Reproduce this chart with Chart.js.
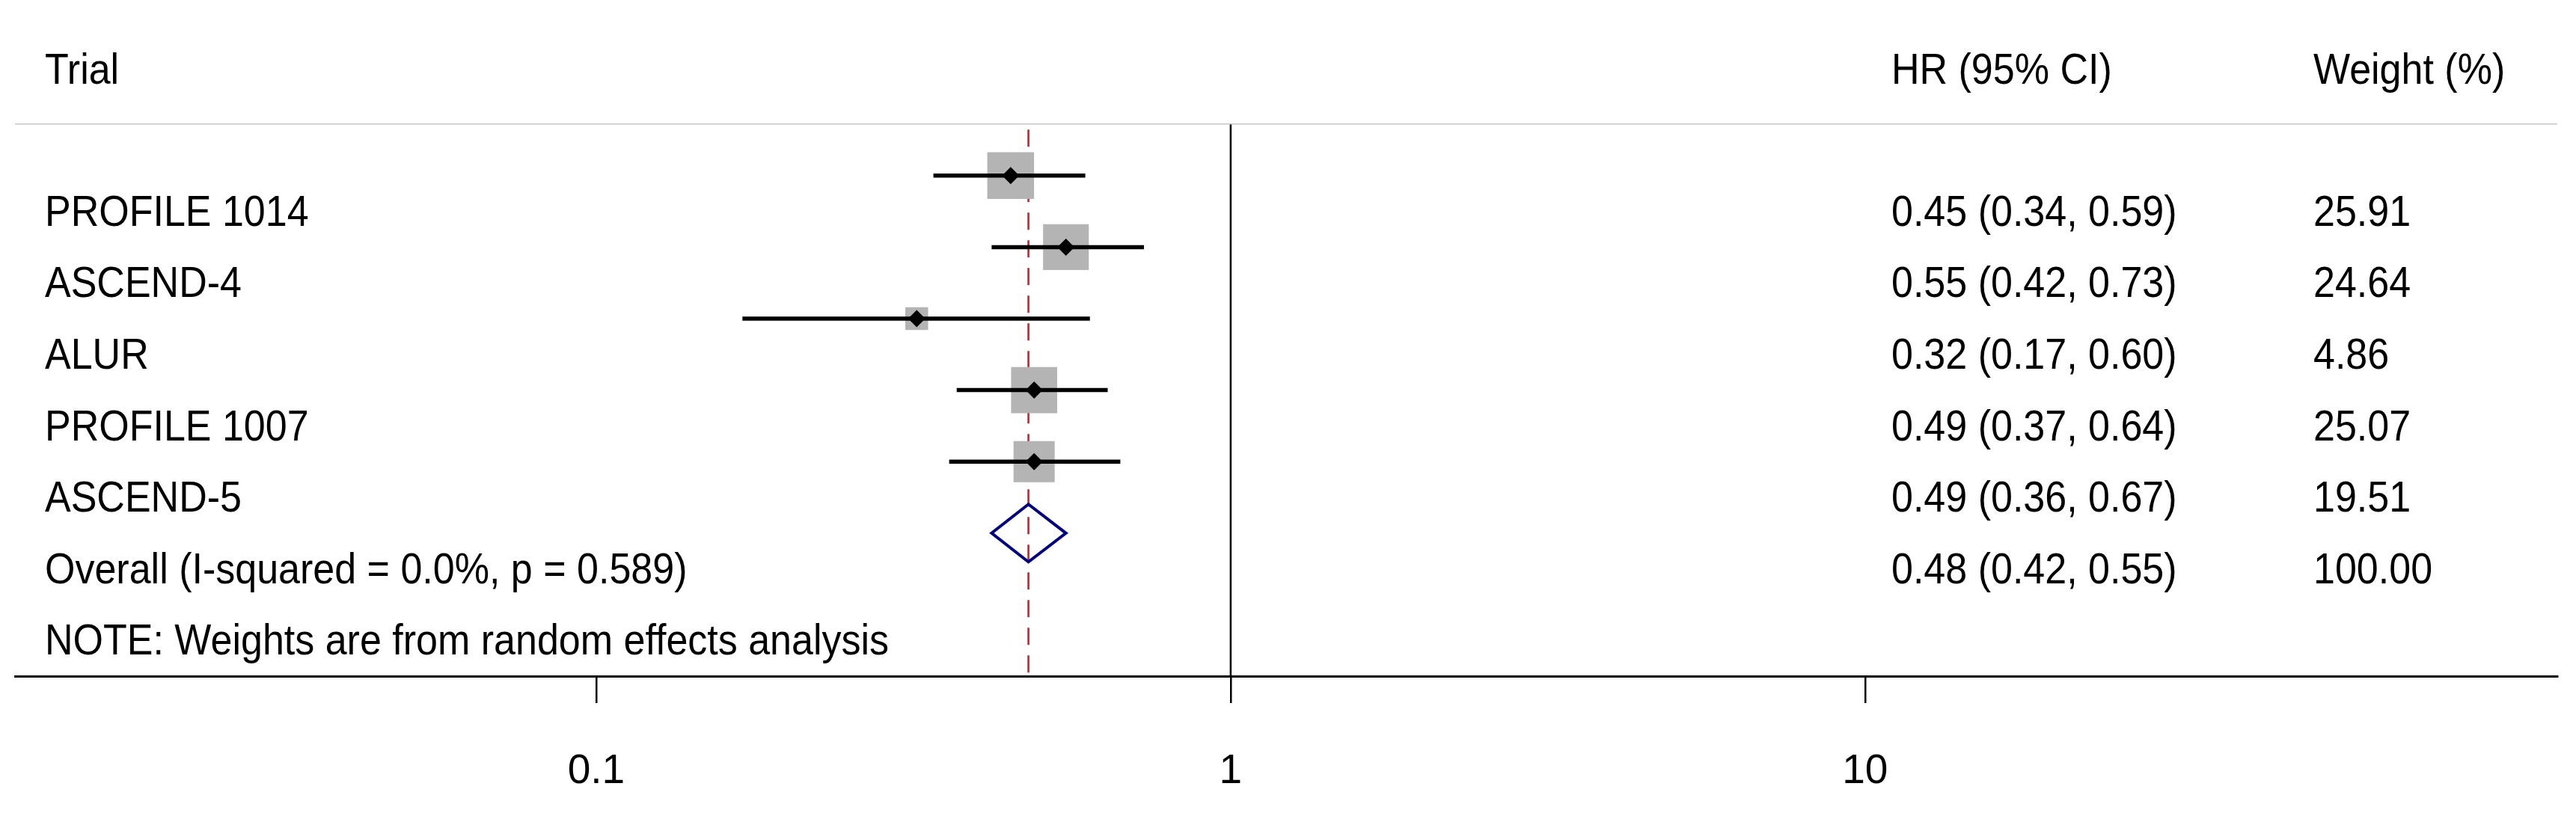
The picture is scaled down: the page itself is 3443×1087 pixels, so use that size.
<!DOCTYPE html>
<html>
<head>
<meta charset="utf-8">
<script src="https://cdn.jsdelivr.net/npm/chart.js@4.4.1/dist/chart.umd.min.js"></script>
<style>
  html, body { margin: 0; padding: 0; background: #ffffff; }
  #wrap { width: 3443px; height: 1087px; position: relative; }
</style>
</head>
<body>
<div id="wrap"><canvas id="c"></canvas></div>
<script>
// ---------------- data ----------------
const trials   = ['PROFILE 1014', 'ASCEND-4', 'ALUR', 'PROFILE 1007', 'ASCEND-5'];
const hr       = [0.45, 0.55, 0.32, 0.49, 0.49];
const ciLow    = [0.34, 0.42, 0.17, 0.37, 0.36];
const ciHigh   = [0.59, 0.73, 0.60, 0.64, 0.67];
const weights  = [25.91, 24.64, 4.86, 25.07, 19.51];
const overallLabel = 'Overall (I-squared = 0.0%, p = 0.589)';
const overallHR    = 0.48;
const overallLow   = 0.42;
const overallHigh  = 0.55;
const overallWeight = 100.00;
const noteText   = 'NOTE: Weights are from random effects analysis';
const headers    = ['Trial', 'HR (95% CI)', 'Weight (%)'];
const tickValues = [0.1, 1, 10];
const tickLabels = ['0.1', '1', '10'];
const nullValue  = 1;

// ---------------- style / layout ----------------
const FONT = '"Liberation Sans", Arial, sans-serif';
const FS = 52;
const TICK_FS = 55;
const VSTRETCH = 1.09;
const X_MIN = 0.01213, X_MAX = 123.3;
const Y_MIN = -0.73, Y_MAX = 7.0;
const LABEL_OFFSET = 0.70;
const COL_LABEL = 60, COL_HR = 2528, COL_W = 3092;

const rows = trials.map((_, i) => i);
const overallRow = trials.length;
const noteRow = trials.length + 1;

const datasets = [];

// reference line at overall estimate (red dashed), drawn at the back
datasets.push({
  data: [{x: overallHR, y: -0.645}, {x: overallHR, y: Y_MAX}],
  showLine: true, pointRadius: 0, borderColor: '#b9303c', borderWidth: 2.7,
  borderDash: [23, 14], order: 20
});
// null line at HR = 1
datasets.push({
  data: [{x: nullValue, y: Y_MIN}, {x: nullValue, y: Y_MAX}],
  showLine: true, pointRadius: 0, borderColor: '#000000', borderWidth: 2.5, order: 19
});
// header separator line (top of plot area)
datasets.push({
  data: [{x: X_MIN, y: Y_MIN}, {x: X_MAX, y: Y_MIN}],
  showLine: true, pointRadius: 0, borderColor: '#c6c6c6', borderWidth: 3, order: 18
});
// weight boxes
datasets.push({
  data: rows.map(i => ({x: hr[i], y: i})),
  showLine: false, pointStyle: 'rect',
  pointRadius: rows.map(i => (6 + 11.1 * Math.sqrt(weights[i])) / Math.SQRT2),
  pointBackgroundColor: '#b4b4b4', pointBorderWidth: 0, pointBorderColor: 'rgba(0,0,0,0)',
  order: 10
});
// confidence interval lines
rows.forEach(i => {
  datasets.push({
    data: [{x: ciLow[i], y: i}, {x: ciHigh[i], y: i}],
    showLine: true, pointRadius: 0, borderColor: '#000000', borderWidth: 5.5,
    borderCapStyle: 'butt', order: 5
  });
});
// point estimates
datasets.push({
  data: rows.map(i => ({x: hr[i], y: i})),
  showLine: false, pointStyle: 'rectRot', pointRadius: 11.5,
  pointBackgroundColor: '#000000', pointBorderWidth: 0, order: 1
});
// overall diamond
const dh = 0.403;
datasets.push({
  data: [
    {x: overallLow, y: overallRow}, {x: overallHR, y: overallRow - dh},
    {x: overallHigh, y: overallRow}, {x: overallHR, y: overallRow + dh},
    {x: overallLow, y: overallRow}, {x: overallHR, y: overallRow - dh}
  ],
  showLine: true, pointRadius: 0, borderColor: '#000080', borderWidth: 4,
  borderJoinStyle: 'miter', tension: 0, order: 2
});

const textPlugin = {
  id: 'forestText',
  afterDraw(chart) {
    const ctx = chart.ctx;
    const ys = chart.scales.y;
    const area = chart.chartArea;
    const put = (t, x, y) => {
      ctx.save();
      ctx.translate(x, y);
      ctx.scale(1, VSTRETCH);
      ctx.fillText(t, 0, 0);
      ctx.restore();
    };
    ctx.save();
    ctx.fillStyle = '#000000';
    ctx.font = FS + 'px ' + FONT;
    ctx.textAlign = 'left';
    ctx.textBaseline = 'alphabetic';
    const hy = area.top - 53;
    put(headers[0], COL_LABEL, hy);
    put(headers[1], COL_HR, hy);
    put(headers[2], COL_W, hy);
    const fmt = (a, b, c) => a.toFixed(2) + ' (' + b.toFixed(2) + ', ' + c.toFixed(2) + ')';
    rows.forEach(i => {
      const y = ys.getPixelForValue(i + LABEL_OFFSET);
      put(trials[i], COL_LABEL, y);
      put(fmt(hr[i], ciLow[i], ciHigh[i]), COL_HR, y);
      put(weights[i].toFixed(2), COL_W, y);
    });
    const oy = ys.getPixelForValue(overallRow + LABEL_OFFSET);
    put(overallLabel, COL_LABEL, oy);
    put(fmt(overallHR, overallLow, overallHigh), COL_HR, oy);
    put(overallWeight.toFixed(2), COL_W, oy);
    put(noteText, COL_LABEL, ys.getPixelForValue(noteRow + LABEL_OFFSET));
    ctx.restore();
  }
};

new Chart(document.getElementById('c'), {
  type: 'scatter',
  data: { datasets },
  plugins: [textPlugin],
  options: {
    responsive: true,
    maintainAspectRatio: false,
    animation: false,
    devicePixelRatio: 1,
    layout: { autoPadding: false, padding: { left: 20, right: 25, top: 165, bottom: 0 } },
    plugins: { legend: { display: false }, tooltip: { enabled: false } },
    elements: { line: { tension: 0 } },
    scales: {
      x: {
        type: 'logarithmic',
        position: 'bottom',
        min: X_MIN, max: X_MAX,
        bounds: 'data',
        afterBuildTicks: (s) => { s.ticks = tickValues.map(v => ({ value: v })); },
        afterFit: (s) => { s.height = 183; },
        grid: { drawOnChartArea: false, drawTicks: true, tickLength: 36, color: '#000000', lineWidth: 2.5 },
        border: { display: true, color: '#000000', width: 3 },
        ticks: {
          autoSkip: false, maxRotation: 0, minRotation: 0, padding: 59, color: '#000000',
          font: { family: FONT, size: TICK_FS },
          callback: (v) => { const k = tickValues.indexOf(v); return k >= 0 ? tickLabels[k] : ''; }
        }
      },
      y: {
        type: 'linear', display: false, reverse: true,
        min: Y_MIN, max: Y_MAX, bounds: 'data'
      }
    }
  }
});
</script>
</body>
</html>
